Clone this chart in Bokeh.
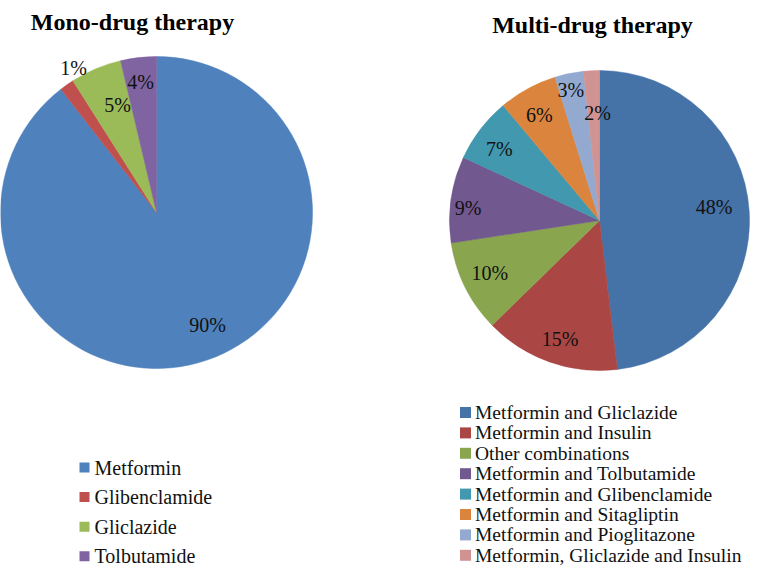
import numpy as np
from bokeh.plotting import figure
from bokeh.models import Range1d, ColumnDataSource
from bokeh.core.properties import value
from bokeh.embed import file_html
from bokeh.resources import INLINE

# ---------------- data ----------------
mono_title = "Mono-drug therapy"
mono_labels = ["Metformin", "Glibenclamide", "Gliclazide", "Tolbutamide"]
mono_values = [89.5, 1.5, 5.3, 3.7]
mono_pct = ["90%", "1%", "5%", "4%"]
mono_colors = ["#4F81BD", "#C0504D", "#9BBB59", "#8064A2"]

multi_title = "Multi-drug therapy"
multi_labels = ["Metformin and Gliclazide", "Metformin and Insulin", "Other combinations",
                "Metformin and Tolbutamide", "Metformin and Glibenclamide",
                "Metformin and Sitagliptin", "Metformin and Pioglitazone",
                "Metformin, Gliclazide and Insulin"]
multi_values = [48.1, 14.6, 9.9, 9.3, 7.0, 6.3, 3.1, 1.7]
multi_pct = ["48%", "15%", "10%", "9%", "7%", "6%", "3%", "2%"]
multi_colors = ["#4572A7", "#AA4643", "#89A54E", "#71588F", "#4198AF",
                "#DB843D", "#93A9CF", "#D19392"]

# ---------------- layout (pixels from top-left of the figure) ----------------
W, H = 750, 566
FONT = "Liberation Serif"

def sy(v):
    return H - v

mono_layout = dict(cx=156, cy=212, r=156,
                   frac=[0.79, 1.07, 0.73, 0.84], nudge=[-5.6, 5.3, 2.9, -0.3])
multi_layout = dict(cx=599, cy=220, r=150,
                    frac=[0.77, 0.83, 0.81, 0.88, 0.82, 0.81, 0.89, 0.72],
                    nudge=[-3.5, -1, 1, -2.5, -2, -1, -0.7, 2])

p = figure(width=W, height=H, x_range=Range1d(0, W), y_range=Range1d(0, H),
           output_backend="svg", toolbar_location=None,
           x_axis_location=None, y_axis_location=None, min_border=0)
p.grid.visible = False
p.outline_line_color = None
p.background_fill_color = "white"
p.border_fill_color = "white"


def draw_pie(values, pcts, colors, lay):
    v = np.array(values, dtype=float)
    frac = v / v.sum()
    cum_end = np.cumsum(frac)
    cum_start = cum_end - frac
    start = np.pi / 2 - 2 * np.pi * cum_end
    end = np.pi / 2 - 2 * np.pi * cum_start
    src = ColumnDataSource(dict(start=start, end=end, color=colors))
    p.wedge(x=lay["cx"], y=sy(lay["cy"]), radius=lay["r"], start_angle="start",
            end_angle="end", fill_color="color", line_color="color", line_width=0.5,
            source=src)
    mid = (cum_start + cum_end) / 2 * 360 + np.array(lay["nudge"])
    th = np.deg2rad(mid)
    d = np.array(lay["frac"]) * lay["r"]
    lx = lay["cx"] + d * np.sin(th)
    ly = sy(lay["cy"]) + d * np.cos(th)
    p.text(x=lx, y=ly, text=pcts, text_align="center", text_baseline="middle",
           text_font=value(FONT), text_font_size="20px", text_color="#111111")


draw_pie(mono_values, mono_pct, mono_colors, mono_layout)
draw_pie(multi_values, multi_pct, multi_colors, multi_layout)

# titles
p.text(x=[132], y=[sy(21)], text=[mono_title], text_align="center",
       text_baseline="alphabetic", text_font=value(FONT), text_font_size="24px",
       text_font_style="bold", text_color="black")
p.text(x=[592], y=[sy(24)], text=[multi_title], text_align="center",
       text_baseline="alphabetic", text_font=value(FONT), text_font_size="24px",
       text_font_style="bold", text_color="black")

# legends
def draw_legend(labels, colors, x_sq, x_txt, y0, dy, size, fsize):
    ys = [sy(y0 + i * dy) for i in range(len(labels))]
    p.scatter(x=[x_sq] * len(labels), y=ys, marker="square", size=size,
              fill_color=colors, line_color=None)
    p.text(x=[x_txt] * len(labels), y=ys, text=labels, text_align="left",
           text_baseline="middle", text_font=value(FONT), text_font_size=fsize,
           text_color="#111111")

draw_legend(mono_labels, mono_colors, 84, 94, 467, 29.6, 10, "20px")
draw_legend(multi_labels, multi_colors, 465, 474.5, 412, 20.4, 11, "19.5px")

open("out.html", "w").write(file_html(p, INLINE))
